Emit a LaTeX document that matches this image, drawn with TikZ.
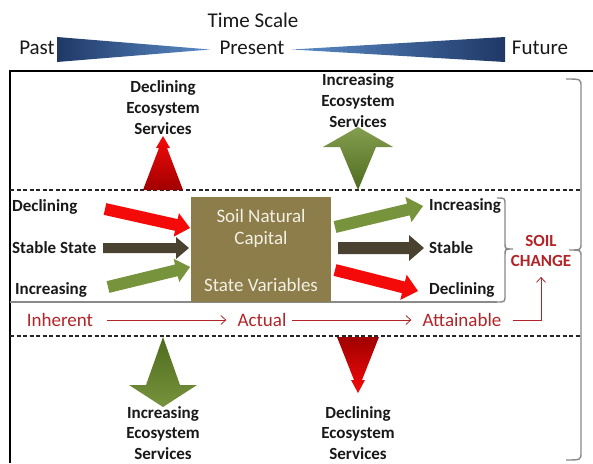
\documentclass[tikz,border=0pt]{standalone}
\usepackage{fontspec}
\setmainfont{Carlito}
\usetikzlibrary{calc,arrows.meta}

\definecolor{arrowred}{HTML}{F50A0A}
\definecolor{darkred}{HTML}{A00000}
\definecolor{stablebrown}{HTML}{4A4231}
\definecolor{leafgreen}{HTML}{77933C}
\definecolor{deepgreen}{HTML}{4E6B1F}
\definecolor{soilbox}{HTML}{8C7D4A}
\definecolor{boxtext}{HTML}{F3F0E4}
\definecolor{changered}{HTML}{B32428}
\definecolor{navy}{HTML}{1F3866}
\definecolor{skyblue}{HTML}{5B8CC8}
\definecolor{bracegray}{HTML}{8A8A8A}

% block arrow: from, to, half shaft width, half head width, head length, fill
\newcommand\blockarrow[6]{%
  \coordinate (ba-h) at ($(#2)!#5!(#1)$);
  \fill[#6] ($(#1)!#3!90:(#2)$) -- ($(ba-h)!#3!90:(#2)$) -- ($(ba-h)!#4!90:(#2)$)
    -- (#2) -- ($(ba-h)!#4!-90:(#2)$) -- ($(ba-h)!#3!-90:(#2)$)
    -- ($(#1)!#3!-90:(#2)$) -- cycle;}

\tikzset{
  x=1pt, y=-1pt,
  timetext/.style={font=\fontsize{21}{24}\selectfont, text=black!90, inner sep=0},
  svclabel/.style={font=\fontsize{17}{21}\selectfont\bfseries, align=center, text=black!90, inner sep=0},
  statelabel/.style={font=\fontsize{17}{20}\selectfont\bfseries, text=black!90, inner sep=0, anchor=west},
  potential/.style={font=\fontsize{19}{22}\selectfont, text=changered, inner sep=0},
  timeline/.style={draw=changered, line width=0.8pt, -{Straight Barb[length=5pt,width=9pt]}},
  bracket/.style={draw=bracegray, line width=1.4pt},
  divider/.style={draw=black!85, line width=1.2pt, dashed, dash pattern=on 4pt off 2.5pt},
}

\begin{document}
\begin{tikzpicture}
\useasboundingbox (0,0) rectangle (593,463);
\fill[white] (0,0) rectangle (593,463);

% time scale
\node[timetext] (timescale) at (253,20) {Time Scale};
\node[timetext] (past) at (37,48) {Past};
\node[timetext] (present) at (252,48) {Present};
\node[timetext] (future) at (540,48) {Future};
\shade[left color=navy, right color=skyblue] (57,37) -- (210,49.5) -- (57,62) -- cycle;
\shade[left color=skyblue, right color=navy] (292,49.5) -- (505,37) -- (505,62) -- cycle;

% frame, dividers and brackets
\draw[black, line width=1.8pt] (10,463) -- (10,71) -- (593,71);
\draw[divider] (10,190) -- (580,190);
\draw[divider] (10,336) -- (580,336);
\draw[bracegray, line width=1.2pt] (10,302) -- (497,302);
\draw[bracket] (497,198) .. controls (505,198) .. (505,205) -- (505,243)
  .. controls (505,249) .. (513,249) .. controls (505,249) .. (505,255)
  -- (505,295) .. controls (505,302) .. (497,302);
\draw[bracket] (566,79) .. controls (581,79) .. (581,87) -- (581,243)
  .. controls (581,250) .. (569,250) .. controls (581,250) .. (581,257)
  -- (581,452) .. controls (581,460) .. (566,460);

% ecosystem services
\node[svclabel] (upDecl) at (163,108) {Declining\\Ecosystem\\Services};
\node[svclabel] (upIncr) at (358,101) {Increasing\\Ecosystem\\Services};
\node[svclabel, font=\fontsize{17}{20.5}\selectfont\bfseries] (dnIncr) at (163,433) {Increasing\\Ecosystem\\Services};
\node[svclabel, font=\fontsize{17}{20.5}\selectfont\bfseries] (dnDecl) at (358,433) {Declining\\Ecosystem\\Services};

\shade[top color=arrowred, bottom color=darkred]
  (143,190) -- (159,148) -- (156,148) -- (163,136) -- (170,148) -- (167,148) -- (183,190) -- cycle;
\shade[top color=leafgreen!90!white, bottom color=deepgreen]
  (358,190) -- (340,147) -- (323,147) -- (358,127) -- (393,147) -- (376,147) -- cycle;
\shade[top color=deepgreen, bottom color=leafgreen]
  (163,337) -- (180,385) -- (197,385) -- (163,407) -- (129,385) -- (146,385) -- cycle;
\shade[top color=darkred, bottom color=arrowred]
  (337,337) -- (379,337) -- (362,380) -- (365,380) -- (358,393) -- (351,380) -- (354,380) -- cycle;

% soil natural capital
\node[fill=soilbox, minimum width=140pt, minimum height=105pt, inner sep=0] (capital) at (261,249.5) {};
\node[font=\fontsize{19}{22}\selectfont, text=boxtext, align=center, inner sep=0] (capname) at (261,228) {Soil Natural\\Capital};
\node[font=\fontsize{19}{22}\selectfont, text=boxtext, inner sep=0] (statevars) at (261,285) {State Variables};

% inputs
\node[statelabel] (inDecl) at (12,207) {Declining};
\node[statelabel] (inStab) at (12,248) {Stable State};
\node[statelabel] (inIncr) at (15,290) {Increasing};
\coordinate (a1s) at (105,209);  \coordinate (a1e) at (190,228);
\coordinate (a2s) at (103,248);  \coordinate (a2e) at (189,248);
\coordinate (a3s) at (108,287);  \coordinate (a3e) at (190,267);
\blockarrow{a1s}{a1e}{6pt}{12pt}{14pt}{arrowred}
\blockarrow{a2s}{a2e}{5pt}{11pt}{13pt}{stablebrown}
\blockarrow{a3s}{a3e}{6pt}{12pt}{14pt}{leafgreen}

% outputs
\node[statelabel] (outIncr) at (429,206) {Increasing};
\node[statelabel] (outStab) at (429,248) {Stable};
\node[statelabel] (outDecl) at (429,290) {Declining};
\coordinate (b1s) at (335,227);  \coordinate (b1e) at (423,206);
\coordinate (b2s) at (338,248);  \coordinate (b2e) at (424,248);
\coordinate (b3s) at (335,270);  \coordinate (b3e) at (418,291);
\blockarrow{b1s}{b1e}{6pt}{13pt}{15pt}{leafgreen}
\blockarrow{b2s}{b2e}{6pt}{13pt}{15pt}{stablebrown}
\blockarrow{b3s}{b3e}{6pt}{13pt}{15pt}{arrowred}

% soil change
\node[font=\fontsize{17}{20}\selectfont\bfseries, text=changered, align=center, inner sep=0] (soilchange) at (541,251) {SOIL\\CHANGE};

% inherent -> actual -> attainable
\node[potential] (inherent) at (60,320) {Inherent};
\node[potential] (actual) at (262,320) {Actual};
\node[potential] (attainable) at (462,320) {Attainable};
\draw[timeline, shorten <=14pt, shorten >=11pt] (inherent) -- (actual);
\draw[timeline, shorten <=5pt, shorten >=11pt] (actual) -- (attainable);
\draw[timeline, shorten >=10pt] ([xshift=11pt]attainable.east) -| (soilchange.south);
\end{tikzpicture}
\end{document}
